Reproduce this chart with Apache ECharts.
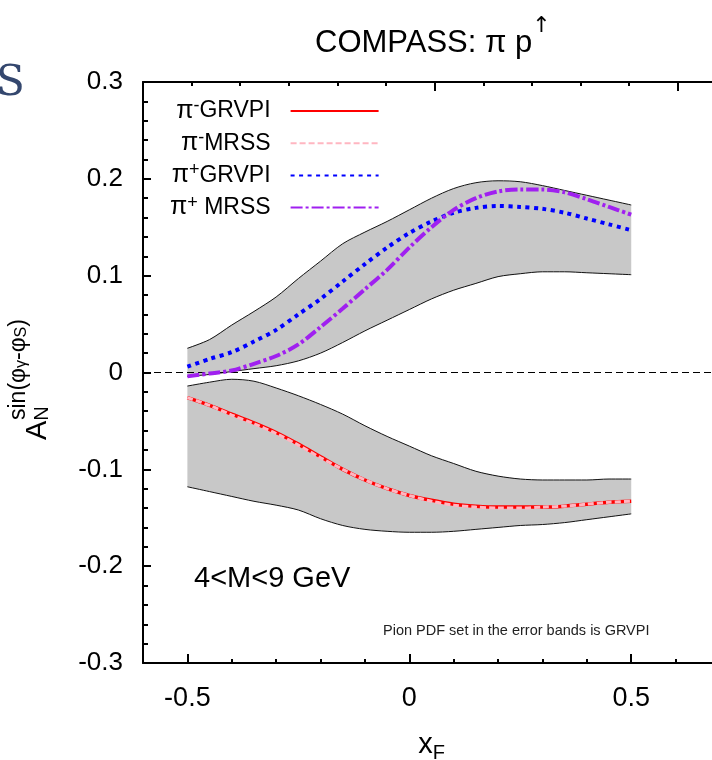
<!DOCTYPE html>
<html>
<head>
<meta charset="utf-8">
<script src="https://cdn.jsdelivr.net/npm/echarts@6/dist/echarts.min.js"></script>
<style>
  html, body { margin: 0; padding: 0; background: #fff; }
  #chart { width: 712px; height: 760px; }
</style>
</head>
<body>
<div id="chart"></div>
<script>
  // x_F sampling points
  var xF = [-0.5, -0.45, -0.4, -0.35, -0.3, -0.25, -0.2, -0.15, -0.1, -0.05, 0,
            0.05, 0.1, 0.15, 0.2, 0.25, 0.3, 0.35, 0.4, 0.45, 0.5];

  // error band for pi+ (upper / lower edge)
  var bandPlusHigh = [0.025, 0.034, 0.049, 0.063, 0.078, 0.097, 0.115, 0.133, 0.145, 0.156, 0.168,
                      0.180, 0.190, 0.196, 0.198, 0.197, 0.193, 0.188, 0.183, 0.178, 0.173];
  var bandPlusLow  = [-0.004, -0.002, 0.001, 0.004, 0.007, 0.012, 0.020, 0.031, 0.043, 0.054, 0.065,
                      0.076, 0.085, 0.092, 0.099, 0.102, 0.104, 0.104, 0.103, 0.102, 0.101];
  // error band for pi-
  var bandMinusHigh = [-0.014, -0.010, -0.007, -0.009, -0.016, -0.024, -0.033, -0.043, -0.055, -0.066, -0.076,
                       -0.086, -0.094, -0.102, -0.107, -0.110, -0.111, -0.111, -0.111, -0.110, -0.110];
  var bandMinusLow  = [-0.118, -0.123, -0.128, -0.133, -0.137, -0.142, -0.151, -0.158, -0.162, -0.164, -0.165,
                       -0.165, -0.164, -0.162, -0.160, -0.158, -0.157, -0.155, -0.152, -0.149, -0.146];

  // curves
  var piMinusGRVPI = [-0.026, -0.034, -0.043, -0.052, -0.062, -0.074, -0.087, -0.100, -0.111, -0.120, -0.127,
                      -0.132, -0.136, -0.138, -0.139, -0.139, -0.139, -0.138, -0.136, -0.134, -0.133];
  var piMinusMRSS  = [-0.026, -0.034, -0.044, -0.053, -0.063, -0.075, -0.088, -0.100, -0.111, -0.120, -0.127,
                      -0.133, -0.137, -0.139, -0.140, -0.140, -0.139, -0.138, -0.136, -0.134, -0.133];
  var piPlusGRVPI  = [0.006, 0.014, 0.021, 0.032, 0.044, 0.060, 0.076, 0.094, 0.112, 0.129, 0.144,
                      0.156, 0.165, 0.170, 0.172, 0.171, 0.169, 0.165, 0.159, 0.153, 0.147];
  var piPlusMRSS   = [-0.004, -0.001, 0.002, 0.009, 0.017, 0.029, 0.047, 0.066, 0.086, 0.106, 0.129,
                      0.150, 0.168, 0.180, 0.187, 0.189, 0.189, 0.186, 0.179, 0.171, 0.163];

  var xLabels = [-0.5, 0, 0.5];

  var FONT = 'Liberation Sans';
  var chart = echarts.init(document.getElementById('chart'), null, {renderer: 'canvas'});

  var bands = [
    {top: bandPlusHigh, bottom: bandPlusLow},
    {top: bandMinusHigh, bottom: bandMinusLow}
  ];

  function renderBand(params, api) {
    var b = bands[params.dataIndex];
    var pts = [];
    for (var i = 0; i < xF.length; i++) pts.push(api.coord([xF[i], b.top[i]]));
    for (var j = xF.length - 1; j >= 0; j--) pts.push(api.coord([xF[j], b.bottom[j]]));
    return {type: 'polygon', shape: {points: pts}, style: {fill: '#c8c8c8', stroke: null}};
  }

  function pairs(ys) {
    return xF.map(function (x, i) { return [x, ys[i]]; });
  }

  function edge(ys) {
    return {
      type: 'line', data: pairs(ys), symbol: 'none', smooth: 0.3, silent: true,
      lineStyle: {color: '#111', width: 1}, z: 3
    };
  }

  function curve(name, ys, color, type, width, z) {
    return {
      name: name, type: 'line', data: pairs(ys), symbol: 'none', smooth: 0.3,
      lineStyle: {color: color, width: width, type: type}, itemStyle: {color: color}, z: z
    };
  }

  var legendText = {
    'pim_GRVPI': '{p|π}{s|-}{t|GRVPI}',
    'pim_MRSS': '{p|π}{s|-}{t|MRSS}',
    'pip_GRVPI': '{p|π}{s|+}{t|GRVPI}',
    'pip_MRSS': '{p|π}{s|+}{t| MRSS}'
  };

  var zeroLine = edge(bandPlusLow);
  zeroLine.markLine = {
    silent: true, symbol: ['none', 'none'], label: {show: false},
    lineStyle: {color: '#000', width: 1, type: [7, 4]},
    data: [{yAxis: 0}]
  };

  var noLine = {show: false, onZero: false};

  var option = {
    animation: false,
    backgroundColor: '#fff',
    title: {
      text: '{t|COMPASS: π p}{a|↑}',
      left: 310, top: 10,
      textStyle: {
        rich: {
          t: {fontFamily: FONT, fontWeight: 'normal', fontSize: 31, color: '#000', lineHeight: 44, verticalAlign: 'bottom'},
          a: {fontFamily: 'DejaVu Sans', fontWeight: 'normal', fontSize: 22, color: '#000', lineHeight: 44, verticalAlign: 'top'}
        }
      }
    },
    legend: {
      orient: 'vertical', left: 170, top: 97, align: 'right', padding: 0,
      itemWidth: 88, itemHeight: 14, itemGap: 5.7,
      data: ['pim_GRVPI', 'pim_MRSS', 'pip_GRVPI', 'pip_MRSS'],
      formatter: function (name) { return legendText[name]; },
      itemStyle: {opacity: 0, borderWidth: 0},
      textStyle: {
        color: '#000', fontFamily: FONT,
        rich: {
          p: {fontFamily: FONT, fontSize: 25, lineHeight: 28, verticalAlign: 'middle'},
          s: {fontFamily: FONT, fontSize: 18, lineHeight: 14, verticalAlign: 'top'},
          t: {fontFamily: FONT, fontSize: 23, lineHeight: 28, verticalAlign: 'middle', padding: [0, 15, 0, 0]}
        }
      }
    },
    grid: {left: 143, right: -8, top: 82, bottom: 97, containLabel: false, outerBoundsMode: 'none'},
    xAxis: [
      {
        type: 'value', position: 'bottom', min: -0.6, max: 0.7, interval: 0.1,
        axisLine: {show: true, onZero: false, lineStyle: {color: '#000', width: 2}},
        axisTick: {show: true, inside: true, length: 4, lineStyle: {color: '#000', width: 2}},
        axisLabel: {show: false}, splitLine: {show: false},
        name: '{x|x}{f|F}', nameLocation: 'middle', nameGap: 64,
        nameTextStyle: {
          rich: {
            x: {fontFamily: FONT, fontSize: 29, color: '#000', verticalAlign: 'middle'},
            f: {fontFamily: FONT, fontSize: 20, color: '#000', padding: [16, 0, 0, 0], verticalAlign: 'middle'}
          }
        }
      },
      {
        type: 'value', position: 'bottom', min: -0.6, max: 0.7, interval: 0.1,
        axisLine: noLine,
        axisTick: {show: true, inside: true, length: 9, customValues: xLabels, lineStyle: {color: '#000', width: 2}},
        axisLabel: {
          show: true, customValues: xLabels, margin: 22, color: '#000', fontFamily: FONT, fontSize: 27,
          formatter: function (v) { return Math.abs(v) < 1e-9 ? '0' : String(v); }
        },
        splitLine: {show: false}
      },
      {
        type: 'value', position: 'top', min: 0, max: 11.87, interval: 1,
        axisLine: {show: true, onZero: false, lineStyle: {color: '#000', width: 2}},
        axisTick: {show: true, inside: true, length: 4, lineStyle: {color: '#000', width: 2}},
        axisLabel: {show: false}, splitLine: {show: false}
      },
      {
        type: 'value', position: 'top', min: 0, max: 11.87, interval: 1,
        axisLine: noLine,
        axisTick: {show: true, inside: true, length: 9, customValues: [6, 11], lineStyle: {color: '#000', width: 2}},
        axisLabel: {show: false}, splitLine: {show: false}
      }
    ],
    yAxis: [
      {
        type: 'value', position: 'left', min: -0.3, max: 0.3, interval: 0.02,
        axisLine: noLine,
        axisTick: {show: true, inside: true, length: 5, lineStyle: {color: '#000', width: 2}},
        axisLabel: {show: false}, splitLine: {show: false}
      },
      {
        type: 'value', position: 'left', min: -0.3, max: 0.3, interval: 0.1,
        axisLine: {show: true, onZero: false, lineStyle: {color: '#000', width: 2}},
        axisTick: {show: true, inside: true, length: 8, lineStyle: {color: '#000', width: 2}},
        axisLabel: {
          show: true, margin: 20, color: '#000', fontFamily: FONT, fontSize: 26,
          formatter: function (v) { return Math.abs(v) < 1e-9 ? '0' : v.toFixed(1); }
        },
        splitLine: {show: false}
      }
    ],
    graphic: [
      {
        type: 'text', x: 52, y: 440, rotation: Math.PI / 2,
        style: {
          text: '{g| }{sp|sin(φ}{ss|γ}{sp|-φ}{ss|S}{sp|)}\n{a|A}{sn|N}',
          align: 'left', verticalAlign: 'bottom', fill: '#000',
          rich: {
            g: {width: 20, fontSize: 18, lineHeight: 22},
            sp: {fontFamily: FONT, fontSize: 23, lineHeight: 22, verticalAlign: 'middle'},
            ss: {fontFamily: FONT, fontSize: 16, lineHeight: 22, verticalAlign: 'bottom'},
            a: {fontFamily: FONT, fontSize: 29, lineHeight: 22, verticalAlign: 'bottom'},
            sn: {fontFamily: FONT, fontSize: 20, lineHeight: 22, verticalAlign: 'bottom'}
          }
        }
      },
      {
        type: 'text', left: 194, top: 564,
        style: {text: '4<M<9 GeV', fontFamily: FONT, fontSize: 29, fill: '#000'}
      },
      {
        type: 'text', left: 383, top: 623,
        style: {text: 'Pion PDF set in the error bands is GRVPI', fontFamily: FONT, fontSize: 14.5, fill: '#222'}
      },
      {
        type: 'text', left: -4, top: 63,
        style: {text: 'S', fontFamily: 'DejaVu Serif', fontSize: 42, fill: '#34476e'}
      }
    ],
    series: [
      {
        type: 'custom', renderItem: renderBand, silent: true, z: 1,
        data: [[-0.5, 0], [-0.5, 0]]
      },
      edge(bandPlusHigh),
      zeroLine,
      edge(bandMinusHigh),
      edge(bandMinusLow),
      curve('pim_GRVPI', piMinusGRVPI, '#ff0000', 'solid', 3.5, 5),
      curve('pim_MRSS', piMinusMRSS, '#ffb6c1', [6, 3], 3, 6),
      curve('pip_GRVPI', piPlusGRVPI, '#0000ff', [4, 4.5], 4, 5),
      curve('pip_MRSS', piPlusMRSS, '#a020f0', [12, 3, 3, 3], 4, 6)
    ]
  };

  chart.setOption(option);
</script>
</body>
</html>
